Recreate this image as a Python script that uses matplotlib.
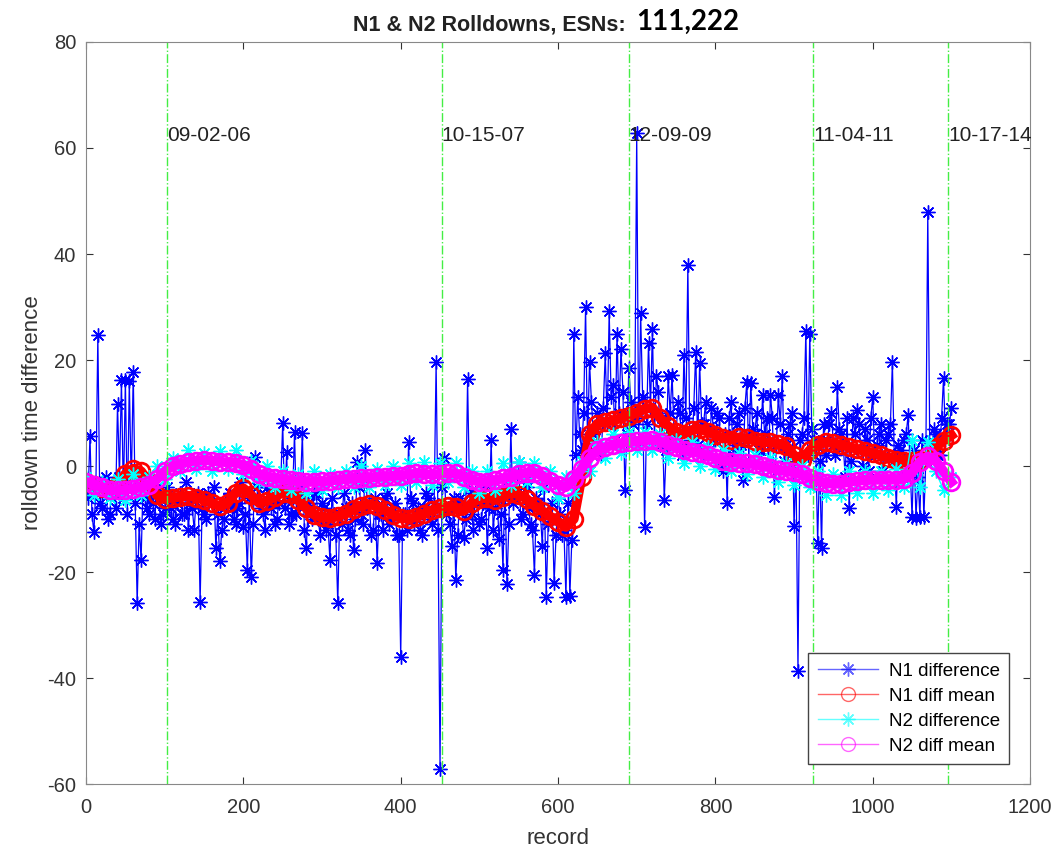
"""Rolldown time differences for the N1 and N2 channels, MATLAB-style figure."""

import matplotlib
matplotlib.use("Agg")
import matplotlib.pyplot as plt
import numpy as np

plt.rcParams["font.family"] = ["Liberation Sans", "DejaVu Sans"]
plt.rcParams["axes.unicode_minus"] = False

# N1 difference, read every 5 records (spikes snapped to nearest sample)
n1_rec = np.arange(0, 1101, 5)
n1_diff = [
    -3, 5.6, -12.5, 24.7, -8, -2, -9, -5, 11.7, 16.2,
    16.3, 16.1, 17.7, -25.9, -17.7, -6, -9, -7, -4, -11,
    -8, -6, -10, -7, -5, -9, -12, -8, -6, -25.7,
    -9, -5, -7, -15.5, -18, -10, -6, -8, -11, -7,
    -11.5, -19.6, -21, 1.7, -6, -9, -4, -8, -11, -7,
    8.1, 2.6, -9, 6.4, -6, 6.2, -15.5, -8, -5, -10,
    -7, -12, -17.7, -9, -25.9, -11, -8, -13, -15.8, 0.8,
    -9, 3, -7, -12, -18.3, -9, -6, -11, -8, -13,
    -36, -9, 4.5, -7, -10, -12, -8, -6, -11, 19.6,
    -57.2, 1.5, -8, -15, -21.5, -6, -13.6, 16.4, -9, -5,
    -11, -7, -15.5, 4.9, -8, -13.8, -19.6, -22.3, 7, -6,
    0.8, -9, -4, -11, -20.6, -7, -15, -24.7, -10, -22,
    -6, -13, -24.7, -24.5, 25, 13, 3, 30, 19.6, 6,
    10, 2, 21.3, 29.2, 15.3, 25, 22, -4.5, 18.5, 8,
    62.8, 28.8, -11.5, 23.2, 25.8, 17, 4, -6.4, 17, 17.2,
    6, 10, 21, 37.9, 3, 21.5, 19.4, 8, 2, 11,
    5, 9, -1, -7, 12, 4, 10, -2.6, 15.9, 15.7,
    6, 3, 13.4, 9, 13.4, -5.8, 13.4, 17, 4, 8,
    -11.3, -38.7, 6, 25.5, 25, 5, -14.5, -15.5, 2, 8,
    4, 14.9, 6, -2, -8, 9, 10.6, 3, 7, -1,
    13, 4, 8, 2, 6, 19.6, -7.7, 3, 5, 9.6,
    -9.6, -9.8, -9.6, -9.7, 48, 3, 6, 2, 16.6, 8,
    11,
]
# the dense N1 cloud between those samples (records 2.5, 7.5, ...)
n1_cloud = [
    -6, -9, -4, -7, -3, -10, -5, -8, -2, -6,
    -9, -4, -7, -11, -3, -8, -5, -10, -6, -9,
    -4, -8, -11, -6, -9, -3, -7, -12, -5, -8,
    -10, -6, -4, -9, -12, -7, -5, -10, -8, -3,
    -9, -6, -11, -4, -8, -12, -5, -7, -10, -3,
    -8, -11, -6, -9, -4, -12, -7, -10, -5, -13,
    -8, -11, -6, -13, -9, -5, -12, -7, -10, -4,
    -11, -8, -13, -6, -9, -12, -5, -10, -7, -13,
    -9, -12, -6, -11, -8, -13, -5, -10, -7, -12,
    -4, -9, -11, -6, -13, -8, -10, -5, -12, -7,
    -10, -4, -8, -12, -6, -9, -3, -11, -7, -5,
    -10, -2, -8, -12, -6, -9, -4, -11, -7, -13,
    -9, -12, -7, -14, 2, 6, 10, 4, 12, 7,
    3, 11, 8, 13, 5, 10, 14, 6, 12, 9,
    4, 13, 8, 11, 5, 14, 9, 3, 10, 6,
    12, 2, 9, 5, 11, 4, 8, 12, 3, 7,
    10, 1, 6, 9, 2, 8, 4, 11, 1, 7,
    10, 3, 6, 0, 9, 4, 8, 1, 6, 10,
    0, 5, 9, 2, 7, 4, 1, 8, 5, 10,
    2, 7, 4, 9, 1, 6, 8, 0, 5, 9,
    2, 6, -1, 5, 8, 1, 4, -2, 6, 0,
    3, -2, 5, 1, 4, 7, 2, 9, 5, 8,
]
n1_cloud_rec = 2.5 + 5 * np.arange(len(n1_cloud))

# running means and N2 difference, read every 10 records
mean_rec = np.arange(0, 1101, 10)
n1_mean = [
    -3, -3.6, -4.2, -4.6, -3.5, -1.5, -0.5, -1, -3, -5.5,
    -6.2, -6, -5.8, -5.6, -6, -6.4, -7, -7.6, -7, -5,
    -4.2, -5.5, -7, -6.6, -5.8, -5, -5.2, -6.5, -8, -9.2,
    -9.7, -9.8, -9.5, -9, -8.2, -7.5, -7.2, -7.6, -8.3, -9.2,
    -9.8, -10, -9.6, -9, -8.3, -8, -7.6, -7.8, -8.5, -7,
    -6.2, -6, -6.4, -5.8, -5, -5.4, -6.2, -7.5, -8.5, -9.5,
    -10.5, -11.5, -10, -2, 6, 8, 8.3, 8.6, 9, 9.5,
    10, 10.8, 11, 9, 7.5, 6.5, 6, 6.8, 7, 6.5,
    5.8, 5.3, 5, 5.4, 5.2, 4.8, 4.5, 4.5, 4.2, 3.8,
    2, 1.2, 3, 4, 4.5, 4.3, 4, 3.6, 3.2, 2.8,
    2.5, 2, 1.5, 1.2, 1, 1, 1.2, 2, 3.5, 4.8,
    5.8,
]
n2_diff = [
    -2, -5.5, -3, -6, -2.5, -6.5, -1.5, -5.5, -2, 0,
    -2.5, 1.5, -1, 3, -0.5, 2.5, -1, 2.8, -0.5, 3,
    -1.5, 1, -3, 0, -4, -1, -4.5, -1.5, -5, -1,
    -4.5, -1.5, -4, -1, -4, 0, -4, -0.5, -3.5, 0,
    -3.5, 0.5, -3, 0.8, -3.5, 0.5, -3, 0.5, -4, -1,
    -5, -1, -4.5, 0.5, -3.5, 0.8, -3, 0.5, -4, -1,
    -6, -2, -5, 1, -1, 4.5, 1.5, 6, 2.5, 6.5,
    3, 6.5, 3, 6, 1.5, 5, 0.5, 4.5, 0, 3.5,
    -0.5, 3, -1, 2.5, -1.5, 2, -2, 1.5, -3, 0.5,
    -3.5, 0, -4, -1, -5.5, -1.5, -5.5, -1, -5, -1,
    -5, -1, -4.5, -0.5, -4, 5, -4, 4.5, -1, -4.5,
    -2,
]
n2_mean = [
    -3, -3.5, -4, -4.5, -4.6, -4.5, -4.3, -4, -3.5, -2.5,
    -1, 0, 0.4, 0.8, 1, 1.1, 1, 0.8, 0.7, 0.6,
    0.2, -0.6, -1.5, -2, -2.3, -2.5, -2.7, -2.9, -3, -3,
    -2.9, -2.8, -2.6, -2.5, -2.4, -2.3, -2.2, -2.1, -2, -1.9,
    -1.8, -1.6, -1.4, -1.5, -1.6, -1.5, -1.3, -1.4, -2, -2.6,
    -3, -3, -2.7, -2.3, -2, -1.6, -1.3, -1.3, -1.8, -2.8,
    -3.5, -4, -2.5, -0.5, 1.5, 3, 3.5, 4, 4.3, 4.5,
    4.7, 4.8, 5, 4.6, 4, 3.5, 3, 2.7, 2.4, 2,
    1.5, 1, 0.8, 0.6, 0.5, 0.3, 0, -0.3, -0.8, -1,
    -1.2, -1.6, -2.2, -2.8, -3.2, -3.4, -3.3, -3, -2.8, -2.7,
    -2.6, -2.6, -2.6, -2.6, -2.4, -1.3, 0.8, 1.8, 1, -1,
    -3,
]

# software load dates and the record where each begins
event_rec = [103, 452, 690, 924, 1096]
event_labels = ["09-02-06", "10-15-07", "12-09-09", "11-04-11", "10-17-14"]

# merge the two N1 readings into one record-ordered trace
n1_x = np.concatenate([n1_rec, n1_cloud_rec])
n1_y = np.concatenate([n1_diff, n1_cloud])
order = np.argsort(n1_x, kind="stable")
n1_x, n1_y = n1_x[order], n1_y[order]

ASTERISK = (8, 2, 0)

fig = plt.figure(figsize=(10.57, 8.5), dpi=100)
ax = fig.add_axes([0.0814, 0.0776, 0.8931, 0.873])

ax.plot(n1_x, n1_y, color="blue", lw=0.9, marker=ASTERISK, ms=10, mew=1,
        label="N1 difference")
ax.plot(mean_rec, n1_mean, color="red", lw=7, marker="o", ms=12,
        mfc="none", mew=2, label="N1 diff mean")
ax.plot(mean_rec, n2_diff, color="cyan", lw=1, marker=ASTERISK, ms=10,
        mew=1, label="N2 difference")
ax.plot(mean_rec, n2_mean, color="magenta", lw=7, marker="o", ms=12,
        mfc="none", mew=2, label="N2 diff mean")

for rec, lab in zip(event_rec, event_labels):
    ax.axvline(rec, color="#44ee44", lw=1, ls="-.")
    ax.text(rec, 62.4, lab, fontsize=15, ha="left", va="center",
            color="#222222")

ax.set_xlim(0, 1200)
ax.set_ylim(-60, 80)
ax.set_xticks(np.arange(0, 1201, 200))
ax.set_yticks(np.arange(-60, 81, 20))
ax.tick_params(direction="in", top=True, right=True, labelsize=14.5,
               colors="#333333", length=5)
ax.tick_params(axis="x", pad=10)
ax.tick_params(axis="y", pad=7)
for sp in ax.spines.values():
    sp.set_color("#888888")
ax.set_xlabel("record", fontsize=16, color="#333333", labelpad=8)
ax.set_ylabel("rolldown time difference", fontsize=16, color="#333333",
              labelpad=3)

fig.text(626 / 1057, 1 - 30 / 850, "N1 & N2 Rolldowns, ESNs:", ha="right",
         va="baseline", fontsize=15.5, fontweight="bold", color="#222222")
fig.text(636 / 1057, 1 - 30 / 850, "111,222", ha="left", va="baseline",
         fontsize=20, fontweight="bold", family="Lato", color="black")

leg = ax.legend(loc="lower right", bbox_to_anchor=(0.978, 0.027),
                borderaxespad=0, numpoints=1, fontsize=13.5, fancybox=False,
                framealpha=1, edgecolor="#444444", handlelength=3.2,
                borderpad=0.5, labelspacing=0.42, handletextpad=0.6)
for h in leg.legend_handles:
    h.set_linewidth(1)
    h.set_markersize(10)
    h.set_markeredgewidth(1)
    h.set_alpha(0.6)

fig.savefig("out.png", dpi=100)
